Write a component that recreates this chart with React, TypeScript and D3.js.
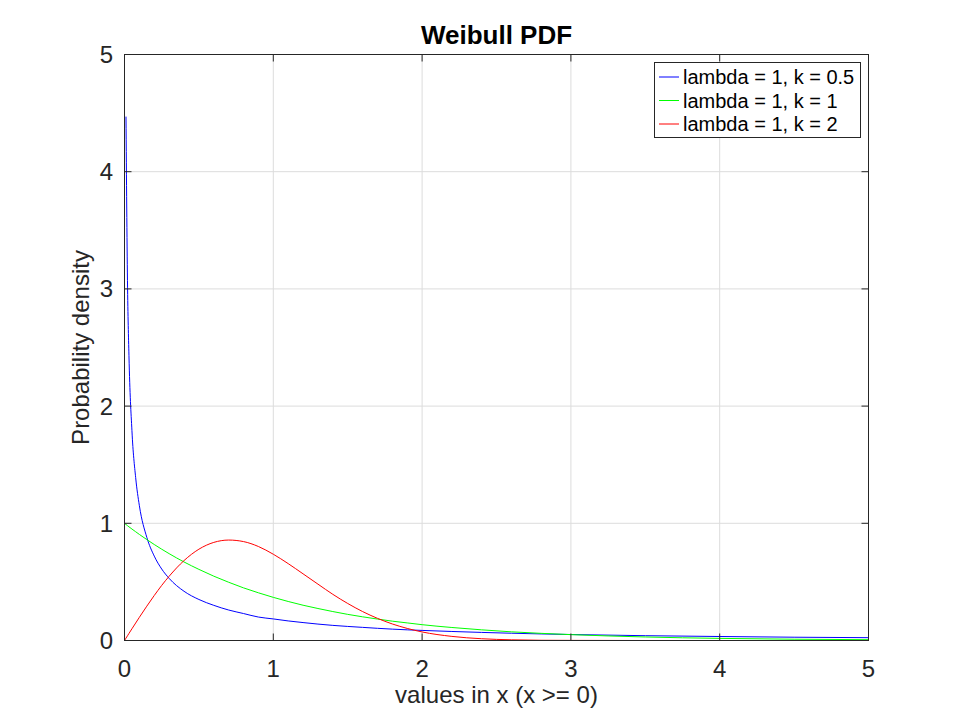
import * as d3 from "d3";

// sample points along x, and the density
const xs = [0, 0.01, 0.02, 0.03, 0.05, 0.075, 0.1, 0.15, 0.2, 0.25, 0.3, 0.4, 0.5, 0.6, 0.7, 0.8, 0.9, 1.0, 1.1, 1.2, 1.3, 1.4, 1.5, 1.6, 1.7, 1.8, 1.9, 2.0, 2.2, 2.4, 2.6, 2.8, 3.0, 3.5, 4.0, 4.5, 5.0];
const pdfK05 = [null, 4.47, 3.07, 2.43, 1.79, 1.39, 1.15, 0.88, 0.72, 0.61, 0.53, 0.42, 0.35, 0.3, 0.26, 0.23, 0.2, 0.184, 0.167, 0.153, 0.14, 0.129, 0.12, 0.112, 0.104, 0.097, 0.091, 0.086, 0.077, 0.069, 0.062, 0.056, 0.051, 0.041, 0.034, 0.028, 0.024];
const pdfK1 = [1, 0.99, 0.98, 0.97, 0.951, 0.928, 0.905, 0.861, 0.819, 0.779, 0.741, 0.67, 0.607, 0.549, 0.497, 0.449, 0.407, 0.368, 0.333, 0.301, 0.273, 0.247, 0.223, 0.202, 0.183, 0.165, 0.15, 0.135, 0.111, 0.091, 0.074, 0.061, 0.05, 0.03, 0.018, 0.011, 0.007];
const pdfK2 = [0, 0.02, 0.04, 0.06, 0.1, 0.149, 0.198, 0.293, 0.384, 0.47, 0.548, 0.682, 0.779, 0.837, 0.857, 0.844, 0.802, 0.736, 0.656, 0.569, 0.481, 0.394, 0.316, 0.247, 0.189, 0.141, 0.103, 0.073, 0.035, 0.015, 0.006, 0.002, 0.001, 0, 0, 0, 0];

const seriesNames = ["lambda = 1, k = 0.5", "lambda = 1, k = 1", "lambda = 1, k = 2"];
const seriesColors = ["#0000ff", "#00ff00", "#ff0000"];
const xTicks = [0, 1, 2, 3, 4, 5];
const yTicks = [0, 1, 2, 3, 4, 5];

const W = 960;
const H = 720;
const FONT = "'Liberation Sans', Arial, Helvetica, sans-serif";
const INK = "#262626";

function App() {
  const x = d3.scaleLinear().domain([0, 5]).range([124.5, 868.5]);
  const y = d3.scaleLinear().domain([0, 5]).range([640.5, 54.5]);
  const [x0, x1] = x.range();
  const [y0, y1] = y.range();

  const allSeries = [pdfK05, pdfK1, pdfK2];
  const line = d3
    .line<[number, number | null]>()
    .defined((d) => d[1] !== null)
    .x((d) => x(d[0]))
    .y((d) => y(d[1] as number))
    .curve(d3.curveMonotoneX);

  const tickLen = 7;

  return (
    <svg
      width={W}
      height={H}
      style={{ position: "absolute", left: 0, top: 0, background: "#fff" }}
      fontFamily={FONT}
    >
      <rect x={0} y={0} width={W} height={H} fill="#fff" />
      <defs>
        <clipPath id="plot-clip">
          <rect x={x0} y={y1} width={x1 - x0} height={y0 - y1} />
        </clipPath>
      </defs>

      {/* grid */}
      {xTicks.map((t) => (
        <line key={"gx" + t} x1={x(t)} x2={x(t)} y1={y0} y2={y1} stroke="#dcdcdc" strokeWidth={1} />
      ))}
      {yTicks.map((t) => (
        <line key={"gy" + t} x1={x0} x2={x1} y1={y(t)} y2={y(t)} stroke="#dcdcdc" strokeWidth={1} />
      ))}

      {/* curves */}
      <g clipPath="url(#plot-clip)">
        {allSeries.map((s, i) => (
          <path
            key={i}
            d={line(xs.map((v, j) => [v, s[j]] as [number, number | null])) || ""}
            fill="none"
            stroke={seriesColors[i]}
            strokeWidth={1}
          />
        ))}
      </g>

      {/* ticks on all four sides, pointing inward */}
      {xTicks.map((t) => (
        <g key={"tx" + t} stroke={INK} strokeWidth={1}>
          <line x1={x(t)} x2={x(t)} y1={y0} y2={y0 - tickLen} />
          <line x1={x(t)} x2={x(t)} y1={y1} y2={y1 + tickLen} />
        </g>
      ))}
      {yTicks.map((t) => (
        <g key={"ty" + t} stroke={INK} strokeWidth={1}>
          <line x1={x0} x2={x0 + tickLen} y1={y(t)} y2={y(t)} />
          <line x1={x1} x2={x1 - tickLen} y1={y(t)} y2={y(t)} />
        </g>
      ))}

      {/* box */}
      <rect x={x0} y={y1} width={x1 - x0} height={y0 - y1} fill="none" stroke={INK} strokeWidth={1} />

      {/* tick labels */}
      {xTicks.map((t) => (
        <text key={"lx" + t} x={x(t)} y={677} textAnchor="middle" fontSize={24} fill={INK}>
          {t}
        </text>
      ))}
      {yTicks.map((t) => (
        <text key={"ly" + t} x={113} y={y(t) + 8.5} textAnchor="end" fontSize={24} fill={INK}>
          {t}
        </text>
      ))}

      {/* labels */}
      <text x={(x0 + x1) / 2} y={44} textAnchor="middle" fontSize={26} fontWeight="bold" fill="#000">
        Weibull PDF
      </text>
      <text x={(x0 + x1) / 2} y={703} textAnchor="middle" fontSize={24} fill={INK}>
        values in x (x &gt;= 0)
      </text>
      <text
        transform={`translate(89, ${(y0 + y1) / 2}) rotate(-90)`}
        textAnchor="middle"
        fontSize={24}
        fill={INK}
      >
        Probability density
      </text>

      {/* legend */}
      <g>
        <rect x={654.5} y={62.5} width={206} height={75} fill="#fff" stroke={INK} strokeWidth={1} />
        {seriesNames.map((name, i) => {
          const ly = 77 + i * 23.5;
          return (
            <g key={name}>
              <line x1={659} x2={679} y1={ly} y2={ly} stroke={seriesColors[i]} strokeWidth={1} />
              <text x={683} y={ly + 7} fontSize={20} fill="#000">
                {name}
              </text>
            </g>
          );
        })}
      </g>
    </svg>
  );
}

export default App;
